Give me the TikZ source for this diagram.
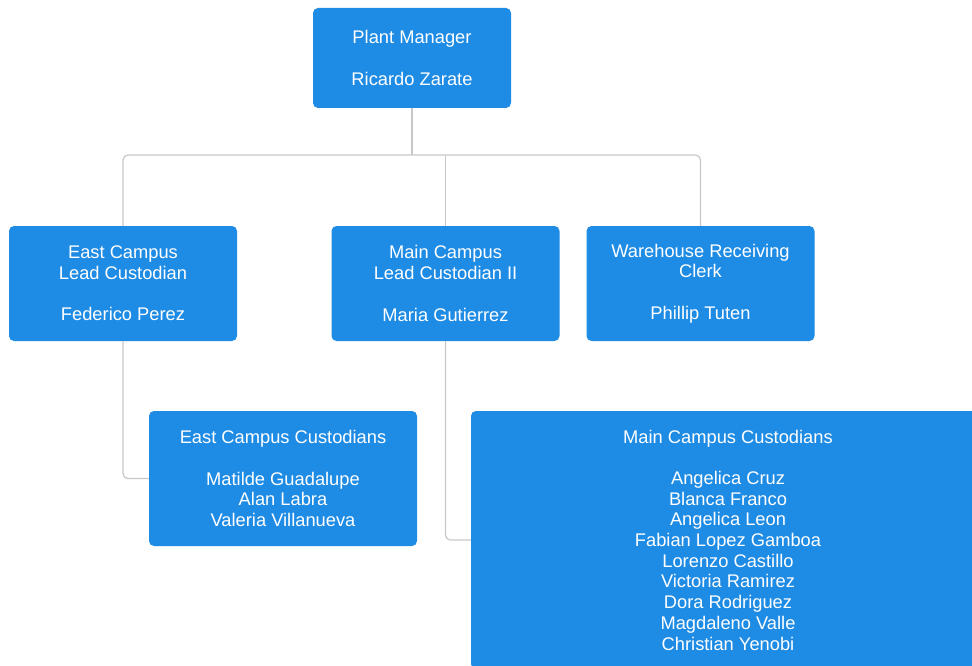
\documentclass[tikz,border=0pt]{standalone}
\usepackage{fontspec}
\setmainfont{Liberation Sans}
\definecolor{boxblue}{RGB}{30,139,229}
\definecolor{linegray}{RGB}{200,200,200}

\begin{document}
\begin{tikzpicture}[x=1pt, y=-1pt,
  box/.style={rectangle, rounded corners=5pt, fill=boxblue, text=white, align=center, inner sep=0pt, font=\fontsize{18.3}{20.7}\selectfont},
  link/.style={draw=linegray, line width=1.2pt, rounded corners=5pt}]

\clip (0,0) rectangle (972,666);
\fill[white] (0,0) rectangle (972,666);

%% GERENTE
\node[box, minimum width=198pt, minimum height=100pt] at (412,58) (Mgr) 
{Plant Manager\\[20.7pt]Ricardo Zarate};

%% SEGUNDO NIVEL
% Campus este
\node[box, minimum width=228pt, minimum height=115pt] at (123,283.5) (East) 
{East Campus\\Lead Custodian\\[20.7pt]Federico Perez};

% Campus principal
\node[box, minimum width=228pt, minimum height=115pt] at (445.5,283.5) (Main) 
{Main Campus\\Lead Custodian II\\[20.7pt]Maria Gutierrez};

% Almacen
\node[box, minimum width=228pt, minimum height=115pt] at (700.5,283.5) (Ware) 
{Warehouse Receiving\\Clerk\\[20.7pt]Phillip Tuten};

%% TERCER NIVEL
% Custodios este
\node[box, minimum width=268pt, minimum height=135pt] at (283,478.5) (ECust) 
{East Campus Custodians\\[20.7pt]Matilde Guadalupe\\Alan Labra\\Valeria Villanueva};

% Custodios principal
\node[box, minimum width=514pt, minimum height=258pt] at (728,540) (MCust) 
{Main Campus Custodians\\[20.7pt]Angelica Cruz\\Blanca Franco\\Angelica Leon\\Fabian Lopez Gamboa\\Lorenzo Castillo\\Victoria Ramirez\\Dora Rodriguez\\Magdaleno Valle\\Christian Yenobi};

% Lineas
\coordinate (bus) at (412,155);
\draw[link] (Mgr.south) -- (bus);
\draw[link] (East.north) |- (bus) -| (Ware.north);
\draw[link] (Main.north) -- (Main.north |- bus);
\draw[link] (East.south) |- (ECust.west);
\draw[link] (Main.south) |- (MCust.west);

\end{tikzpicture}
\end{document}
